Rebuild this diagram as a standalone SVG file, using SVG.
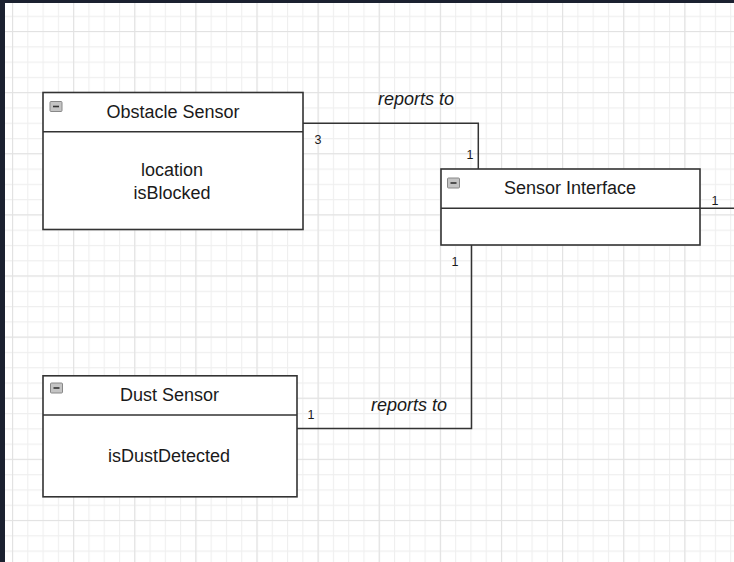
<svg xmlns="http://www.w3.org/2000/svg" width="734" height="562" viewBox="0 0 734 562">
  <style>
    .box { fill: #ffffff; stroke: #333333; stroke-width: 1.6; }
    .div { stroke: #333333; stroke-width: 1.6; }
    .edge { fill: none; stroke: #333333; stroke-width: 1.5; }
    .title { font-family: "Liberation Sans", Arial, sans-serif; font-size: 18px; fill: #1a1a1a; text-anchor: middle; }
    .attr { font-family: "Liberation Sans", Arial, sans-serif; font-size: 18px; fill: #1a1a1a; text-anchor: middle; }
    .lbl { font-family: "Liberation Sans", Arial, sans-serif; font-size: 18px; font-style: italic; fill: #1a1a1a; text-anchor: middle; }
    .mult { font-family: "Liberation Sans", Arial, sans-serif; font-size: 12.5px; fill: #1a1a1a; text-anchor: middle; }
    .tog rect { fill: #c4c4c4; stroke: #888888; stroke-width: 1; }
    .tog line { stroke: #333333; stroke-width: 1.6; }
  </style>
  <defs>
    <pattern id="minor" patternUnits="userSpaceOnUse" x="12" y="0.44" width="15.28" height="15.28">
      <path d="M0 0.5 H15.28 M0.5 0 V15.28" fill="none" stroke="#efefef" stroke-width="1.2"/>
    </pattern>
    <pattern id="major" patternUnits="userSpaceOnUse" x="12" y="31" width="61.12" height="61.12">
      <path d="M0 0.5 H61.12 M0.5 0 V61.12" fill="none" stroke="#e2e2e2" stroke-width="1.2"/>
    </pattern>
    <g id="toggle" class="tog">
      <rect x="0" y="0" width="12" height="10" rx="1"/>
      <line x1="3" y1="5" x2="9" y2="5"/>
    </g>
  </defs>

  <!-- canvas -->
  <rect x="0" y="0" width="734" height="562" fill="#ffffff"/>
  <rect x="0" y="0" width="734" height="562" fill="url(#minor)"/>
  <rect x="0" y="0" width="734" height="562" fill="url(#major)"/>
  <!-- window frame -->
  <rect x="0" y="0" width="734" height="3" fill="#1b2130"/>
  <rect x="0" y="0" width="5" height="562" fill="#1b2130"/>

  <!-- connectors -->
  <g id="connectors">
    <path class="edge" d="M303 123.3 H478.3 V169"/>
    <text class="lbl" x="416" y="105">reports to</text>
    <text class="mult" x="318" y="144">3</text>
    <text class="mult" x="470" y="159">1</text>

    <path class="edge" d="M297 428.5 H471.5 V245"/>
    <text class="lbl" x="409" y="411">reports to</text>
    <text class="mult" x="311" y="419">1</text>
    <text class="mult" x="455" y="266">1</text>

    <path class="edge" d="M700 208.3 H734"/>
    <text class="mult" x="715" y="205">1</text>
  </g>

  <!-- Obstacle Sensor -->
  <g id="obstacle-sensor">
    <rect class="box" x="43" y="92.5" width="260" height="137"/>
    <line class="div" x1="43" y1="131.8" x2="303" y2="131.8"/>
    <use href="#toggle" x="50" y="101.5"/>
    <text class="title" x="173" y="117.5">Obstacle Sensor</text>
    <text class="attr" x="172" y="176">location</text>
    <text class="attr" x="172" y="198.5">isBlocked</text>
  </g>

  <!-- Sensor Interface -->
  <g id="sensor-interface">
    <rect class="box" x="441" y="169" width="259" height="76"/>
    <line class="div" x1="441" y1="208.3" x2="700" y2="208.3"/>
    <use href="#toggle" x="447.5" y="178"/>
    <text class="title" x="570" y="193.5">Sensor Interface</text>
  </g>

  <!-- Dust Sensor -->
  <g id="dust-sensor">
    <rect class="box" x="43" y="375.8" width="254" height="121"/>
    <line class="div" x1="43" y1="415" x2="297" y2="415"/>
    <use href="#toggle" x="50.5" y="383"/>
    <text class="title" x="169.5" y="401">Dust Sensor</text>
    <text class="attr" x="169" y="462">isDustDetected</text>
  </g>
</svg>
